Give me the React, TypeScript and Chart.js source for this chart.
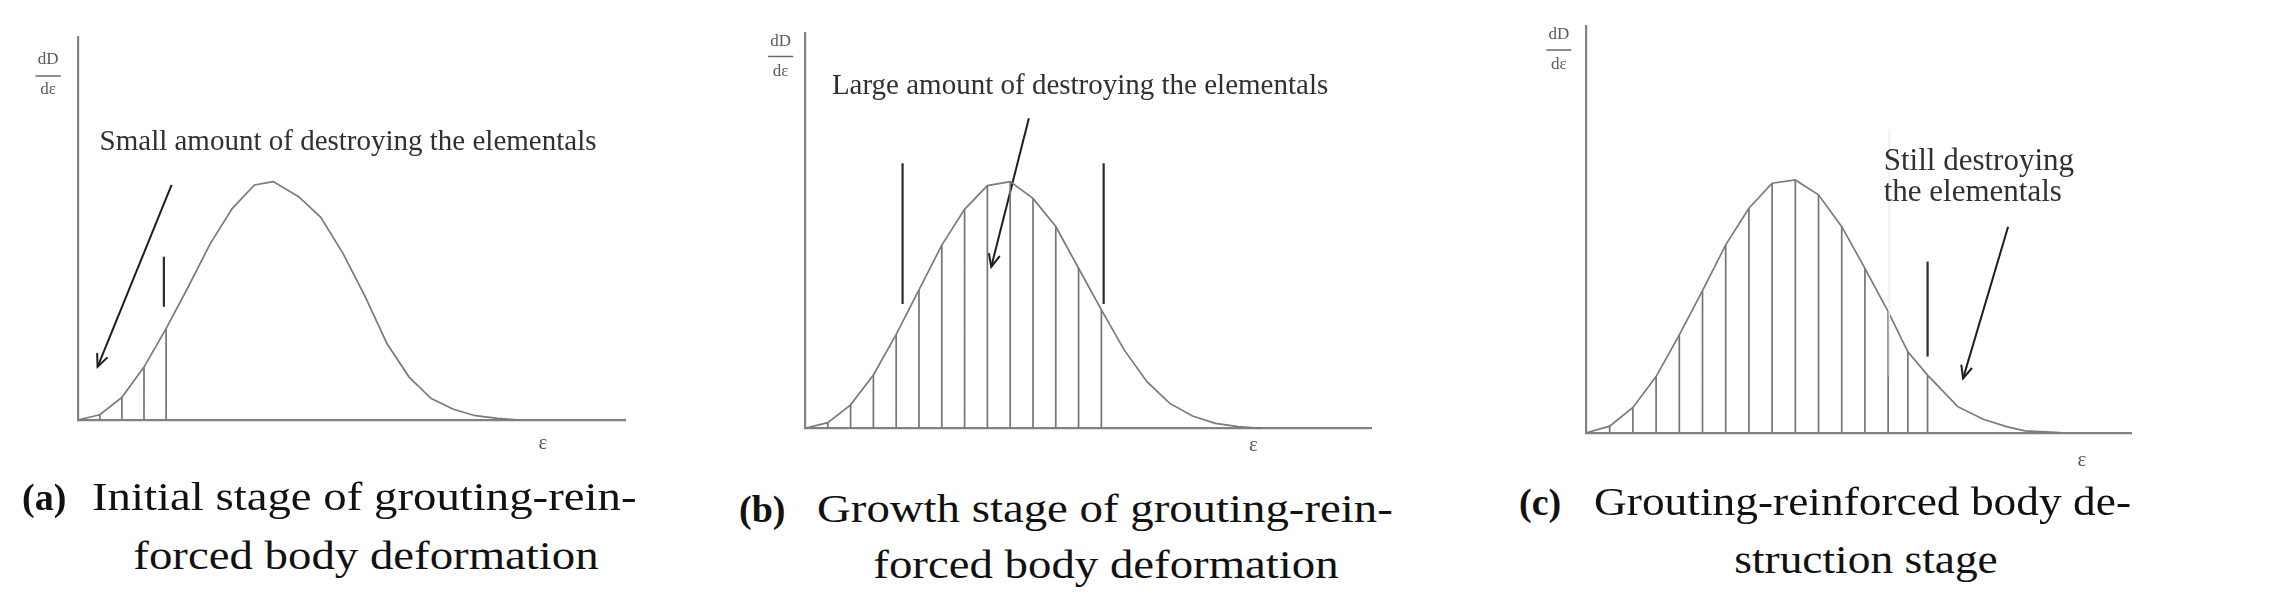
import React, { useEffect, useRef } from "react";
import { Chart, registerables } from "chart.js";

Chart.register(...registerables);

// ---------------- Panel (a) data ----------------
const curveAX = [0, 1, 2, 3, 4, 5, 6, 7, 8, 8.85, 10, 11, 12, 13, 14, 15, 16, 17, 18, 19, 20];
const curveAY = [0, 0.022, 0.095, 0.222, 0.383, 0.558, 0.74, 0.888, 0.986, 1.0, 0.937, 0.85, 0.7, 0.52, 0.32, 0.18, 0.09, 0.045, 0.018, 0.007, 0];
const hatchAX = [1, 2, 3, 4];
const hatchAY = [0.022, 0.095, 0.222, 0.383];
const markAX = [3.9];
const markALow = [0.475];
const markAHigh = [0.685];
const arrowAX = [4.25, 0.9];
const arrowAY = [0.986, 0.223];
const noteALines = ["Small amount of destroying the elementals"];

// ---------------- Panel (b) data ----------------
const curveBX = [0, 1, 2, 3, 4, 5, 6, 7, 8, 9, 10, 11, 12, 13, 14, 15, 16, 17, 18, 19, 20];
const curveBY = [0, 0.023, 0.095, 0.216, 0.381, 0.561, 0.743, 0.888, 0.984, 1.0, 0.932, 0.818, 0.649, 0.48, 0.318, 0.189, 0.101, 0.05, 0.02, 0.007, 0];
const hatchBX = [1, 2, 3, 4, 5, 6, 7, 8, 9, 10, 11, 12, 13];
const hatchBY = [0.023, 0.095, 0.216, 0.381, 0.561, 0.743, 0.888, 0.984, 1.0, 0.932, 0.818, 0.649, 0.48];
const markBX = [4.28, 13.1];
const markBLow = [0.504, 0.504];
const markBHigh = [1.075, 1.075];
const arrowBX = [9.82, 8.17];
const arrowBY = [1.257, 0.655];
const noteBLines = ["Large amount of destroying the elementals"];

// ---------------- Panel (c) data ----------------
const curveCX = [0, 1, 2, 3, 4, 5, 6, 7, 8, 9, 10, 11, 12, 13, 13.85, 14.7, 16, 17.1, 18.1, 18.9, 20.4];
const curveCY = [0, 0.026, 0.1, 0.222, 0.387, 0.562, 0.743, 0.888, 0.987, 1.0, 0.941, 0.815, 0.65, 0.479, 0.32, 0.228, 0.103, 0.053, 0.024, 0.007, 0];
const hatchCX = [1, 2, 3, 4, 5, 6, 7, 8, 9, 10, 11, 12, 13, 13.85, 14.7];
const hatchCY = [0.026, 0.1, 0.222, 0.387, 0.562, 0.743, 0.888, 0.987, 1.0, 0.941, 0.815, 0.65, 0.479, 0.32, 0.228];
const markCX = [14.7];
const markCLow = [0.301];
const markCHigh = [0.677];
const arrowCX = [18.17, 16.23];
const arrowCY = [0.815, 0.215];
const noteCLines = ["Still destroying", "the elementals"];
const faintCX = [13.05];
const faintCLow = [0.222];
const faintCHigh = [1.198];

// ---------------- Text ----------------
const yLabelTop = "dD";
const yLabelBottom = "dε";
const xLabel = "ε";
const captionTags = ["(a)", "(b)", "(c)"];
const captionLine1 = ["Initial stage of grouting-rein-", "Growth stage of grouting-rein-", "Grouting-reinforced body de-"];
const captionLine2 = ["forced body deformation", "forced body deformation", "struction stage"];

type Pt = { x: number; y: number | null };

type Panel = {
  canvasLeft: number;
  canvasWidth: number;
  canvasHeight: number;
  pad: { left: number; right: number; top: number; bottom: number };
  xMax: number;
  yMax: number;
  curveX: number[];
  curveY: number[];
  hatchX: number[];
  hatchY: number[];
  markX: number[];
  markLow: number[];
  markHigh: number[];
  arrowX: number[];
  arrowY: number[];
  faintX?: number[];
  faintLow?: number[];
  faintHigh?: number[];
  note: string[];
  notePos: { x: number; y: number[] };
  noteSize: number;
  fracPos: { x: number; top: number; line: number; bottom: number };
  epsPos: { x: number; y: number };
};

const panels: Panel[] = [
  {
    canvasLeft: 0,
    canvasWidth: 700,
    canvasHeight: 480,
    pad: { left: 77.7, right: 75, top: 36.7, bottom: 60 },
    xMax: 24.77,
    yMax: 1.608,
    curveX: curveAX,
    curveY: curveAY,
    hatchX: hatchAX,
    hatchY: hatchAY,
    markX: markAX,
    markLow: markALow,
    markHigh: markAHigh,
    arrowX: arrowAX,
    arrowY: arrowAY,
    note: noteALines,
    notePos: { x: 0.99, y: [1.164] },
    noteSize: 29,
    fracPos: { x: -1.34, top: 1.511, line: 1.443, bottom: 1.385 },
    epsPos: { x: 21.06, y: -0.097 },
  },
  {
    canvasLeft: 720,
    canvasWidth: 700,
    canvasHeight: 480,
    pad: { left: 85, right: 48.7, top: 32.7, bottom: 51.7 },
    xMax: 24.84,
    yMax: 1.604,
    curveX: curveBX,
    curveY: curveBY,
    hatchX: hatchBX,
    hatchY: hatchBY,
    markX: markBX,
    markLow: markBLow,
    markHigh: markBHigh,
    arrowX: arrowBX,
    arrowY: arrowBY,
    note: noteBLines,
    notePos: { x: 1.18, y: [1.388] },
    noteSize: 29,
    fracPos: { x: -1.07, top: 1.568, line: 1.507, bottom: 1.446 },
    epsPos: { x: 19.67, y: -0.068 },
  },
  {
    canvasLeft: 1480,
    canvasWidth: 780,
    canvasHeight: 480,
    pad: { left: 106.5, right: 128.7, top: 26, bottom: 47.3 },
    xMax: 23.48,
    yMax: 1.609,
    curveX: curveCX,
    curveY: curveCY,
    hatchX: hatchCX,
    hatchY: hatchCY,
    markX: markCX,
    markLow: markCLow,
    markHigh: markCHigh,
    arrowX: arrowCX,
    arrowY: arrowCY,
    faintX: faintCX,
    faintLow: faintCLow,
    faintHigh: faintCHigh,
    note: noteCLines,
    notePos: { x: 12.81, y: [1.072, 0.95] },
    noteSize: 31,
    fracPos: { x: -1.19, top: 1.574, line: 1.514, bottom: 1.455 },
    epsPos: { x: 21.35, y: -0.109 },
  },
];

function segments(xs: number[], lows: number[], highs: number[]): Pt[] {
  const out: Pt[] = [];
  xs.forEach((x, i) => {
    out.push({ x, y: lows[i] });
    out.push({ x, y: highs[i] });
    out.push({ x, y: null });
  });
  return out;
}

const SERIF = "'Liberation Serif', 'Times New Roman', serif";

function makeAnnotationPlugin(p: Panel) {
  return {
    id: "annotations",
    afterDraw(chart: any) {
      const ctx: CanvasRenderingContext2D = chart.ctx;
      const xs = chart.scales.x;
      const ys = chart.scales.y;
      const px = (v: number) => xs.getPixelForValue(v);
      const py = (v: number) => ys.getPixelForValue(v);
      ctx.save();

      // arrowhead at the end of the arrow dataset
      const x0 = px(p.arrowX[0]);
      const y0 = py(p.arrowY[0]);
      const x1 = px(p.arrowX[1]);
      const y1 = py(p.arrowY[1]);
      const ang = Math.atan2(y1 - y0, x1 - x0);
      const len = 13;
      const spread = 0.42;
      ctx.strokeStyle = "#1e1e1e";
      ctx.lineWidth = 2;
      ctx.lineCap = "round";
      ctx.beginPath();
      ctx.moveTo(x1 - len * Math.cos(ang - spread), y1 - len * Math.sin(ang - spread));
      ctx.lineTo(x1, y1);
      ctx.lineTo(x1 - len * Math.cos(ang + spread), y1 - len * Math.sin(ang + spread));
      ctx.stroke();

      // annotation text
      ctx.fillStyle = "#303030";
      ctx.font = `${p.noteSize}px ${SERIF}`;
      ctx.textAlign = "left";
      ctx.textBaseline = "middle";
      p.note.forEach((t, i) => {
        ctx.fillText(t, px(p.notePos.x), py(p.notePos.y[i]));
      });

      // dD / dε fraction label
      const fx = px(p.fracPos.x);
      ctx.fillStyle = "#5a5a5a";
      ctx.font = `17px ${SERIF}`;
      ctx.textAlign = "center";
      ctx.fillText(yLabelTop, fx, py(p.fracPos.top));
      ctx.fillText(yLabelBottom, fx, py(p.fracPos.bottom));
      ctx.strokeStyle = "#6a6a6a";
      ctx.lineWidth = 1.5;
      ctx.beginPath();
      const ly = py(p.fracPos.line);
      ctx.moveTo(fx - 12, ly);
      ctx.lineTo(fx + 12, ly);
      ctx.stroke();

      // ε label
      ctx.fillStyle = "#555555";
      ctx.font = `21px ${SERIF}`;
      ctx.fillText(xLabel, px(p.epsPos.x), py(p.epsPos.y));
      ctx.restore();
    },
  };
}

function PanelChart({ p }: { p: Panel }) {
  const ref = useRef<HTMLCanvasElement | null>(null);
  useEffect(() => {
    if (!ref.current) return;
    const datasets: any[] = [];
    if (p.faintX && p.faintLow && p.faintHigh) {
      datasets.push({
        data: segments(p.faintX, p.faintLow, p.faintHigh),
        borderColor: "#ececec",
        borderWidth: 1.5,
        pointRadius: 0,
        spanGaps: false,
        clip: false,
      });
    }
    datasets.push(
      {
        data: p.curveX.map((x, i) => ({ x, y: p.curveY[i] })),
        borderColor: "#7a7a7a",
        borderWidth: 1.7,
        pointRadius: 0,
        tension: 0,
        clip: false,
      },
      {
        data: segments(p.hatchX, p.hatchX.map(() => 0), p.hatchY),
        borderColor: "#757575",
        borderWidth: 1.7,
        pointRadius: 0,
        spanGaps: false,
        clip: false,
      },
      {
        data: segments(p.markX, p.markLow, p.markHigh),
        borderColor: "#2b2b2b",
        borderWidth: 2.2,
        pointRadius: 0,
        spanGaps: false,
        clip: false,
      },
      {
        data: p.arrowX.map((x, i) => ({ x, y: p.arrowY[i] })),
        borderColor: "#1e1e1e",
        borderWidth: 2,
        pointRadius: 0,
        clip: false,
      }
    );
    const axisStyle = {
      type: "linear" as const,
      min: 0,
      grid: { display: false, drawTicks: false },
      ticks: { display: false },
      border: { display: true, color: "#828282", width: 2.2 },
    };
    const chart = new Chart(ref.current, {
      type: "line",
      data: { datasets },
      options: {
        animation: false,
        responsive: false,
        devicePixelRatio: 1,
        events: [],
        layout: { padding: p.pad },
        plugins: {
          legend: { display: false },
          tooltip: { enabled: false },
          title: { display: false },
        },
        scales: {
          x: { ...axisStyle, max: p.xMax },
          y: { ...axisStyle, max: p.yMax },
        },
      } as any,
      plugins: [makeAnnotationPlugin(p)],
    });
    return () => chart.destroy();
  }, [p]);
  return (
    <canvas
      ref={ref}
      width={p.canvasWidth}
      height={p.canvasHeight}
      style={{ position: "absolute", left: p.canvasLeft, top: 0, width: p.canvasWidth, height: p.canvasHeight }}
    />
  );
}

const captionLayout = [
  { tagLeft: 22, textLeft: 92, line1Base: 510, line2Base: 569, line2Center: 366, stretch: 1.17 },
  { tagLeft: 739, textLeft: 817, line1Base: 522, line2Base: 578, line2Center: 1106, stretch: 1.17 },
  { tagLeft: 1519, textLeft: 1594, line1Base: 515, line2Base: 573, line2Center: 1866, stretch: 1.135 },
];

export default function App() {
  const capFont = 40;
  const capAscent = 33.5; // baseline offset for 40px with line-height 40px
  return (
    <div
      style={{
        position: "absolute",
        left: 0,
        top: 0,
        width: 2273,
        height: 610,
        background: "#ffffff",
        overflow: "hidden",
      }}
    >
      {panels.map((p, i) => (
        <PanelChart key={i} p={p} />
      ))}
      {captionLayout.map((c, i) => (
        <React.Fragment key={i}>
          <div
            style={{
              position: "absolute",
              left: c.tagLeft,
              top: c.line1Base - 31.8,
              fontFamily: SERIF,
              fontWeight: "bold",
              fontSize: 38,
              lineHeight: "38px",
              whiteSpace: "nowrap",
              color: "#111",
            }}
          >
            {captionTags[i]}
          </div>
          <div
            style={{
              position: "absolute",
              left: c.textLeft,
              top: c.line1Base - capAscent,
              fontFamily: SERIF,
              fontSize: capFont,
              lineHeight: `${capFont}px`,
              whiteSpace: "nowrap",
              color: "#111",
              transform: `scaleX(${c.stretch})`,
              transformOrigin: "left top",
            }}
          >
            {captionLine1[i]}
          </div>
          <div
            style={{
              position: "absolute",
              left: c.line2Center - 400,
              width: 800,
              textAlign: "center",
              top: c.line2Base - capAscent,
              fontFamily: SERIF,
              fontSize: capFont,
              lineHeight: `${capFont}px`,
              whiteSpace: "nowrap",
              color: "#111",
              transform: `scaleX(${c.stretch})`,
              transformOrigin: "center top",
            }}
          >
            {captionLine2[i]}
          </div>
        </React.Fragment>
      ))}
    </div>
  );
}
